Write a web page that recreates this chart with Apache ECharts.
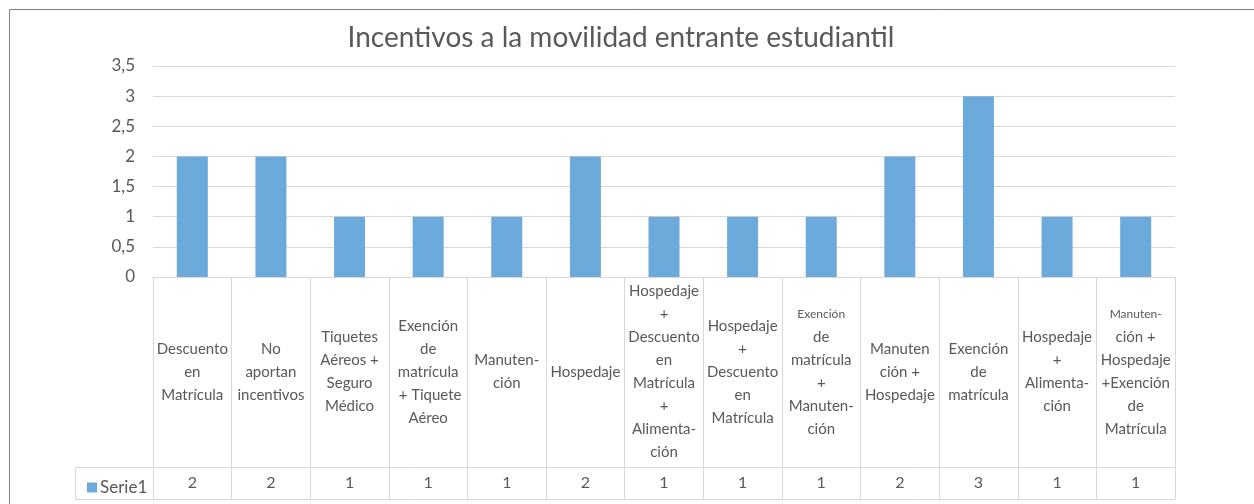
<!DOCTYPE html>
<html>
<head>
<meta charset="utf-8">
<script src="https://cdn.jsdelivr.net/npm/echarts@6/dist/echarts.min.js"></script>
<style>
html,body{margin:0;padding:0;background:#fff;}
#chart{width:1254px;height:504px;}
</style>
</head>
<body>
<div id="chart"></div>
<script>
var title = 'Incentivos a la movilidad entrante estudiantil';
var seriesName = 'Serie1';
var categories = [
  'Descuento\nen\nMatrícula',
  'No\naportan\nincentivos',
  'Tiquetes\nAéreos +\nSeguro\nMédico',
  'Exención\nde\nmatrícula\n + Tiquete\nAéreo',
  'Manuten-\nción',
  'Hospedaje',
  'Hospedaje\n+\nDescuento\nen\nMatrícula\n+\nAlimenta-\nción',
  'Hospedaje\n+\nDescuento\nen\nMatrícula',
  '{s|Exención}\nde\nmatrícula\n+\nManuten-\nción',
  'Manuten\nción +\nHospedaje',
  'Exención\nde\nmatrícula',
  'Hospedaje\n+\nAlimenta-\nción',
  '{s|Manuten-}\nción +\nHospedaje\n+Exención\nde\nMatrícula'
];
var values = [2, 2, 1, 1, 1, 2, 1, 1, 1, 2, 3, 1, 1];
var yTicks = [0, 0.5, 1, 1.5, 2, 2.5, 3, 3.5];

var FONT = 'Lato';
var TXT = '#595959';
var LINE = '#d9d9d9';

var chart = echarts.init(document.getElementById('chart'));
chart.setOption({
  backgroundColor: '#fff',
  animation: false,
  textStyle: {fontFamily: FONT},
  title: {
    text: title,
    left: 616,
    textAlign: 'center',
    top: 19,
    textStyle: {fontFamily: FONT, fontSize: 28, fontWeight: 'normal', color: TXT}
  },
  legend: {
    left: 82,
    top: 474,
    icon: 'rect',
    itemWidth: 10,
    itemHeight: 10,
    itemGap: 4,
    textStyle: {fontFamily: FONT, fontSize: 17, color: TXT, padding: [0,0,0,-2]},
    data: [seriesName]
  },
  grid: {left: 153, right: 79, top: 66, bottom: 227, containLabel: false},
  xAxis: [
    {
      type: 'category',
      data: categories,
      position: 'bottom',
      axisLine: {show: true, lineStyle: {color: LINE, width: 1}},
      axisTick: {show: true, interval: 0, length: 222, lineStyle: {color: LINE, width: 1}},
      axisLabel: {
        interval: 0,
        margin: 95,
        verticalAlign: 'middle',
        align: 'center',
        fontFamily: FONT,
        fontSize: 15,
        lineHeight: 23,
        color: TXT,
        rich: {s: {fontFamily: FONT, fontSize: 12, lineHeight: 23, color: TXT}}
      },
      splitLine: {show: false}
    },
    {
      type: 'category',
      data: values.map(function(v){ return String(v); }),
      position: 'bottom',
      offset: 190,
      axisLine: {show: true, lineStyle: {color: LINE, width: 1}},
      axisTick: {show: false},
      axisLabel: {interval: 0, margin: 16, verticalAlign: 'middle', fontFamily: FONT, fontSize: 16, color: TXT}
    },
    {
      type: 'category',
      data: values.map(function(){ return ''; }),
      position: 'bottom',
      offset: 222,
      axisLine: {show: true, lineStyle: {color: LINE, width: 1}},
      axisTick: {show: false},
      axisLabel: {show: false}
    }
  ],
  yAxis: {
    type: 'value',
    min: yTicks[0],
    max: yTicks[yTicks.length - 1],
    interval: yTicks[1] - yTicks[0],
    axisLine: {show: false},
    axisTick: {show: false},
    splitLine: {lineStyle: {color: LINE, width: 1}},
    axisLabel: {
      margin: 18,
      fontFamily: FONT,
      fontSize: 17,
      color: TXT,
      formatter: function(v){ return String(v).replace('.', ','); }
    }
  },
  series: [{
    name: seriesName,
    type: 'bar',
    xAxisIndex: 0,
    data: values,
    barWidth: 31,
    itemStyle: {color: '#6DAADC'}
  }],
  graphic: [
    {type: 'rect', silent: true, shape: {x: 9.5, y: 9.5, width: 1260, height: 520}, style: {fill: null, stroke: '#7f7f7f', lineWidth: 1}},
    {type: 'line', silent: true, shape: {x1: 75.5, y1: 467.5, x2: 153, y2: 467.5}, style: {stroke: LINE, lineWidth: 1}},
    {type: 'line', silent: true, shape: {x1: 75.5, y1: 499.5, x2: 153, y2: 499.5}, style: {stroke: LINE, lineWidth: 1}},
    {type: 'line', silent: true, shape: {x1: 75.5, y1: 467.5, x2: 75.5, y2: 499.5}, style: {stroke: LINE, lineWidth: 1}}
  ]
});
</script>
</body>
</html>
